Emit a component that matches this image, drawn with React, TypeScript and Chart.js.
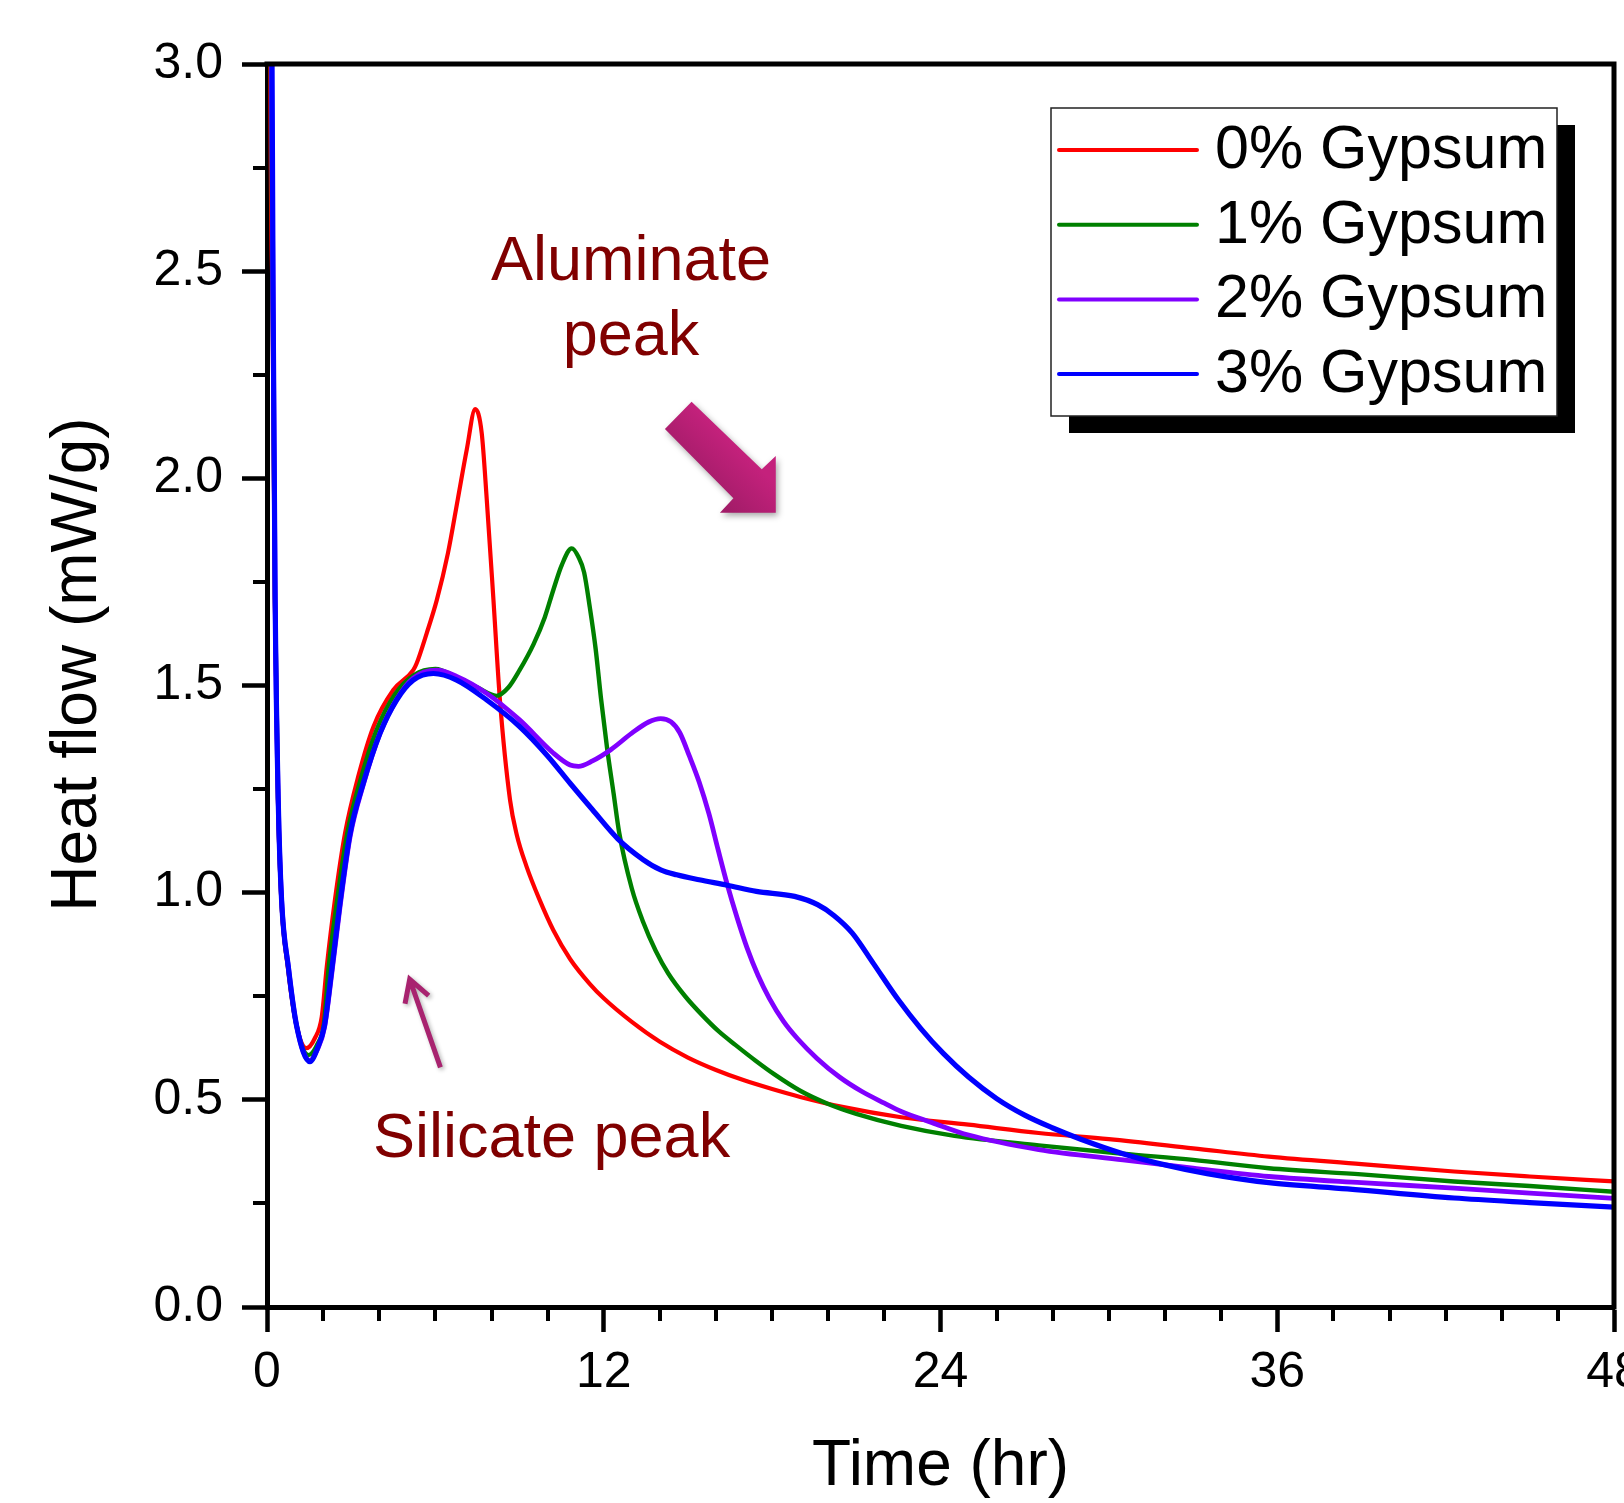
import React, { useEffect, useRef } from "react";
import { Chart, registerables } from "chart.js";

Chart.register(...registerables);

const FONT = "'Liberation Sans', Arial, Helvetica, sans-serif";

// ---- Data (time in hr, heat flow in mW/g) ----
const seriesLabels = ["0% Gypsum", "1% Gypsum", "2% Gypsum", "3% Gypsum"];
const seriesColors = ["#FF0000", "#008000", "#8000FF", "#0000FF"];
const seriesWidths = [4.2, 4.4, 4.8, 5.2];

const timeRed = [0.08, 0.12, 0.2, 0.28, 0.39, 0.51, 0.74, 1.02, 1.41, 1.7, 1.95, 2.13, 2.42, 2.78, 3.25, 3.79, 4.5, 5.21, 5.33, 5.69, 6.05, 6.45, 6.8, 7.12, 7.42, 7.65, 7.83, 8.07, 8.3, 8.66, 8.9, 9.25, 9.7, 10.2, 10.8, 11.5, 12.0, 13.0, 14.0, 15.0, 16.0, 17.0, 18.0, 19.0, 20.5, 22.6, 25.0, 27.5, 30.0, 33.0, 35.7, 39.0, 42.3, 45.0, 48.0];
const heatRed = [4.5, 3.0, 2.4, 1.707, 1.224, 0.982, 0.821, 0.69, 0.625, 0.648, 0.7, 0.821, 0.982, 1.143, 1.28, 1.4, 1.489, 1.537, 1.553, 1.626, 1.706, 1.82, 1.95, 2.07, 2.167, 2.11, 1.95, 1.706, 1.465, 1.224, 1.14, 1.063, 0.985, 0.91, 0.84, 0.78, 0.745, 0.688, 0.64, 0.602, 0.572, 0.547, 0.526, 0.507, 0.483, 0.458, 0.44, 0.42, 0.405, 0.383, 0.363, 0.345, 0.327, 0.315, 0.303];

const timeGreen = [0.08, 0.14, 0.21, 0.285, 0.395, 0.515, 0.75, 1.04, 1.48, 1.8, 2.03, 2.2, 2.5, 2.86, 3.33, 3.9, 4.55, 5.25, 6.0, 6.76, 7.5, 8.18, 8.6, 9.0, 9.5, 9.9, 10.2, 10.5, 10.86, 11.1, 11.3, 11.5, 11.71, 11.9, 12.12, 12.35, 12.55, 13.0, 13.4, 13.85, 14.3, 14.9, 15.5, 16.1, 16.7, 17.4, 18.07, 19.0, 20.0, 21.0, 22.6, 24.5, 27.5, 30.5, 33.0, 35.7, 39.0, 42.3, 45.0, 48.0];
const heatGreen = [4.5, 3.0, 2.4, 1.707, 1.224, 0.982, 0.821, 0.683, 0.608, 0.635, 0.685, 0.821, 0.982, 1.143, 1.272, 1.392, 1.478, 1.526, 1.54, 1.52, 1.495, 1.475, 1.495, 1.537, 1.6, 1.665, 1.73, 1.79, 1.831, 1.81, 1.773, 1.69, 1.589, 1.47, 1.348, 1.24, 1.145, 1.01, 0.93, 0.86, 0.805, 0.75, 0.705, 0.665, 0.632, 0.595, 0.562, 0.522, 0.49, 0.466, 0.437, 0.413, 0.39, 0.37, 0.355, 0.335, 0.32, 0.303, 0.292, 0.278];

const timePurple = [0.08, 0.16, 0.22, 0.29, 0.4, 0.52, 0.76, 1.06, 1.52, 1.8, 2.05, 2.3, 2.6, 2.96, 3.43, 4.03, 4.62, 5.21, 6.05, 6.76, 7.83, 9.0, 10.2, 10.8, 11.1, 11.6, 12.25, 13.0, 13.6, 14.03, 14.4, 14.71, 15.05, 15.4, 15.75, 16.07, 16.4, 16.75, 17.1, 17.5, 17.9, 18.4, 18.9, 19.6, 20.4, 21.2, 22.0, 22.6, 23.7, 25.0, 27.5, 30.5, 33.0, 35.7, 39.0, 42.3, 45.0, 48.0];
const heatPurple = [4.5, 3.0, 2.4, 1.707, 1.224, 0.982, 0.821, 0.677, 0.595, 0.622, 0.675, 0.8, 0.965, 1.135, 1.26, 1.385, 1.467, 1.518, 1.537, 1.522, 1.481, 1.417, 1.337, 1.308, 1.305, 1.318, 1.345, 1.385, 1.412, 1.42, 1.412, 1.386, 1.33, 1.267, 1.19, 1.105, 1.02, 0.94, 0.868, 0.8, 0.745, 0.69, 0.648, 0.6, 0.555, 0.52, 0.492, 0.472, 0.445, 0.415, 0.38, 0.355, 0.335, 0.315, 0.3, 0.287, 0.275, 0.262];

const timeBlue = [0.08, 0.18, 0.22, 0.29, 0.4, 0.52, 0.76, 1.06, 1.53, 1.8, 2.05, 2.3, 2.6, 2.96, 3.43, 4.03, 4.62, 5.21, 5.93, 6.76, 7.83, 9.0, 10.0, 10.8, 11.6, 12.5, 13.4, 14.03, 14.6, 15.4, 16.4, 17.44, 18.8, 19.62, 20.2, 20.85, 21.6, 22.49, 23.3, 24.1, 25.0, 26.0, 27.0, 28.0, 29.0, 30.5, 32.0, 33.5, 35.7, 38.5, 42.3, 45.0, 48.0];
const heatBlue = [4.5, 3.0, 2.4, 1.707, 1.224, 0.982, 0.821, 0.677, 0.592, 0.625, 0.68, 0.81, 0.975, 1.143, 1.264, 1.385, 1.465, 1.513, 1.529, 1.513, 1.465, 1.401, 1.33, 1.264, 1.2, 1.13, 1.08, 1.055, 1.043, 1.031, 1.018, 1.003, 0.991, 0.971, 0.945, 0.903, 0.83, 0.742, 0.672, 0.612, 0.555, 0.503, 0.463, 0.432, 0.405, 0.37, 0.343, 0.322, 0.3, 0.285, 0.263, 0.252, 0.241];

const seriesTimes = [timeRed, timeGreen, timePurple, timeBlue];
const seriesHeat = [heatRed, heatGreen, heatPurple, heatBlue];

// ---- Axes ----
const xMajorTicks = [0, 12, 24, 36, 48];
const xMinorTicks = [2, 4, 6, 8, 10, 14, 16, 18, 20, 22, 26, 28, 30, 32, 34, 38, 40, 42, 44, 46];
const yMajorTicks = [0, 0.5, 1.0, 1.5, 2.0, 2.5, 3.0];
const yMinorTicks = [0.25, 0.75, 1.25, 1.75, 2.25, 2.75];
const xTitle = "Time (hr)";
const yTitle = "Heat flow (mW/g)";

// ---- Annotations ----
const annotationTexts = ["Aluminate", "peak", "Silicate peak"];
const annotationTime = [12.97, 12.97, 10.14];
const annotationHeat = [2.479, 2.298, 0.362];
const bigArrowTime = [14.18, 15.13, 17.63, 18.13, 18.13, 16.14, 16.62];
const bigArrowHeat = [2.119, 2.185, 2.022, 2.054, 1.917, 1.917, 1.952];
const smallArrowTime = [6.18, 5.085];
const smallArrowHeat = [0.5785, 0.791];

const decorPlugin = {
  id: "decor",
  afterDatasetsDraw(chart: any) {
    const { ctx, chartArea: a, scales } = chart;
    const xs = scales.x;
    const ys = scales.y;
    ctx.save();
    ctx.strokeStyle = "#000";
    ctx.lineWidth = 4;
    ctx.lineCap = "butt";
    ctx.beginPath();
    for (const t of xMinorTicks) {
      const px = Math.round(xs.getPixelForValue(t));
      ctx.moveTo(px, a.bottom);
      ctx.lineTo(px, a.bottom + 14);
    }
    for (const v of yMinorTicks) {
      const py = Math.round(ys.getPixelForValue(v));
      ctx.moveTo(a.left, py);
      ctx.lineTo(a.left - 14, py);
    }
    ctx.stroke();
    ctx.lineWidth = 5;
    ctx.lineCap = "square";
    ctx.beginPath();
    ctx.moveTo(a.left, a.top);
    ctx.lineTo(a.right, a.top);
    ctx.lineTo(a.right, a.bottom);
    ctx.stroke();
    ctx.restore();
  },
  afterDraw(chart: any) {
    const { ctx, chartArea: a, scales } = chart;
    const xs = scales.x;
    const ys = scales.y;
    ctx.save();

    // y title
    ctx.save();
    ctx.translate(a.left - 189, (a.top + a.bottom) / 2 - 21);
    ctx.rotate(-Math.PI / 2);
    ctx.fillStyle = "#000";
    ctx.font = `64px ${FONT}`;
    ctx.textAlign = "center";
    ctx.textBaseline = "middle";
    ctx.fillText(yTitle, 0, 0);
    ctx.restore();

    // legend
    const bw = 506, bh = 308;
    const bx = a.right - 563, by = a.top + 44;
    ctx.fillStyle = "#000";
    ctx.fillRect(bx + 18, by + 17, bw, bh);
    ctx.fillStyle = "#fff";
    ctx.fillRect(bx, by, bw, bh);
    ctx.strokeStyle = "#222";
    ctx.lineWidth = 1.5;
    ctx.strokeRect(bx, by, bw, bh);
    ctx.font = `61px ${FONT}`;
    ctx.textAlign = "left";
    ctx.textBaseline = "middle";
    seriesLabels.forEach((label, i) => {
      const ry = by + 42 + i * 74.7;
      ctx.strokeStyle = seriesColors[i];
      ctx.lineWidth = 4;
      ctx.lineCap = "round";
      ctx.beginPath();
      ctx.moveTo(bx + 8, ry);
      ctx.lineTo(bx + 146, ry);
      ctx.stroke();
      ctx.fillStyle = "#000";
      ctx.fillText(label, bx + 164, ry + 1);
    });

    // annotation texts
    ctx.fillStyle = "#800000";
    ctx.font = `63px ${FONT}`;
    ctx.textAlign = "center";
    ctx.textBaseline = "alphabetic";
    annotationTexts.forEach((txt, i) => {
      ctx.fillText(txt, xs.getPixelForValue(annotationTime[i]), ys.getPixelForValue(annotationHeat[i]));
    });

    // big block arrow
    const pts = bigArrowTime.map((t, i) => [xs.getPixelForValue(t), ys.getPixelForValue(bigArrowHeat[i])]);
    ctx.save();
    ctx.shadowColor = "rgba(0,0,0,0.35)";
    ctx.shadowBlur = 6;
    ctx.shadowOffsetX = 2;
    ctx.shadowOffsetY = 3;
    const g = ctx.createLinearGradient(pts[1][0], pts[1][1], pts[0][0] - 10, pts[0][1] + 10);
    g.addColorStop(0, "#C4217C");
    g.addColorStop(1, "#A21C68");
    ctx.fillStyle = g;
    ctx.beginPath();
    pts.forEach((p, i) => (i === 0 ? ctx.moveTo(p[0], p[1]) : ctx.lineTo(p[0], p[1])));
    ctx.closePath();
    ctx.fill();
    ctx.restore();

    // small arrow
    const tx = xs.getPixelForValue(smallArrowTime[0]);
    const ty = ys.getPixelForValue(smallArrowHeat[0]);
    const hx = xs.getPixelForValue(smallArrowTime[1]);
    const hy = ys.getPixelForValue(smallArrowHeat[1]);
    const ang = Math.atan2(ty - hy, tx - hx);
    const wl = 25, wa = (30 * Math.PI) / 180;
    ctx.save();
    ctx.shadowColor = "rgba(0,0,0,0.3)";
    ctx.shadowBlur = 4;
    ctx.shadowOffsetX = 2;
    ctx.shadowOffsetY = 2;
    ctx.strokeStyle = "#A8236F";
    ctx.lineWidth = 5;
    ctx.lineCap = "butt";
    ctx.lineJoin = "miter";
    ctx.beginPath();
    ctx.moveTo(tx, ty);
    ctx.lineTo(hx, hy);
    ctx.moveTo(hx + wl * Math.cos(ang - wa), hy + wl * Math.sin(ang - wa));
    ctx.lineTo(hx, hy);
    ctx.lineTo(hx + wl * Math.cos(ang + wa), hy + wl * Math.sin(ang + wa));
    ctx.stroke();
    ctx.restore();

    ctx.restore();
  },
};

export default function App() {
  const ref = useRef<HTMLCanvasElement | null>(null);

  useEffect(() => {
    if (!ref.current) return;
    const chart = new Chart(ref.current, {
      type: "line",
      data: {
        datasets: seriesLabels.map((label, i) => ({
          label,
          data: seriesTimes[i].map((t, j) => ({ x: t, y: seriesHeat[i][j] })),
          borderColor: seriesColors[i],
          backgroundColor: seriesColors[i],
          borderWidth: seriesWidths[i],
          pointRadius: 0,
          fill: false,
          cubicInterpolationMode: "monotone",
          order: 4 - i,
        })),
      },
      options: {
        responsive: false,
        animation: false,
        devicePixelRatio: 1,
        layout: { padding: { left: 0, right: 34, top: 64, bottom: 0 } },
        plugins: { legend: { display: false }, tooltip: { enabled: false } },
        elements: { line: { borderJoinStyle: "round", borderCapStyle: "round" } },
        scales: {
          x: {
            type: "linear",
            min: 0,
            max: 48,
            afterBuildTicks: (s: any) => {
              s.ticks = xMajorTicks.map((v) => ({ value: v }));
            },
            ticks: {
              font: { family: FONT, size: 50 },
              color: "#000",
              padding: 11,
              maxRotation: 0,
              autoSkip: false,
              callback: (v: any) => String(v),
            },
            grid: {
              display: true,
              drawOnChartArea: false,
              drawTicks: true,
              tickLength: 25,
              tickWidth: 4.5,
              tickColor: "#000",
              color: "#000",
            },
            border: { display: true, color: "#000", width: 5 },
            title: {
              display: true,
              text: xTitle,
              color: "#000",
              font: { family: FONT, size: 64, lineHeight: 1 },
              padding: { top: 0, bottom: 4 },
            },
            afterFit: (s: any) => {
              s.height = 196;
              s.paddingLeft = 0;
              s.paddingRight = 0;
            },
          },
          y: {
            type: "linear",
            min: 0,
            max: 3,
            afterBuildTicks: (s: any) => {
              s.ticks = yMajorTicks.map((v) => ({ value: v }));
            },
            ticks: {
              font: { family: FONT, size: 50 },
              color: "#000",
              padding: 19,
              autoSkip: false,
              callback: (v: any) => Number(v).toFixed(1),
            },
            grid: {
              display: true,
              drawOnChartArea: false,
              drawTicks: true,
              tickLength: 25,
              tickWidth: 4.5,
              tickColor: "#000",
              color: "#000",
            },
            border: { display: true, color: "#000", width: 5 },
            title: { display: false },
            afterFit: (s: any) => {
              s.width = 267;
              s.paddingTop = 0;
              s.paddingBottom = 0;
            },
          },
        },
      },
      plugins: [decorPlugin],
    } as any);
    return () => chart.destroy();
  }, []);

  return (
    <div
      style={{
        position: "fixed",
        left: 0,
        top: 0,
        width: 1624,
        height: 1503,
        overflow: "hidden",
        background: "#fff",
      }}
    >
      <canvas ref={ref} width={1648} height={1503} style={{ display: "block", width: 1648, height: 1503 }} />
    </div>
  );
}
